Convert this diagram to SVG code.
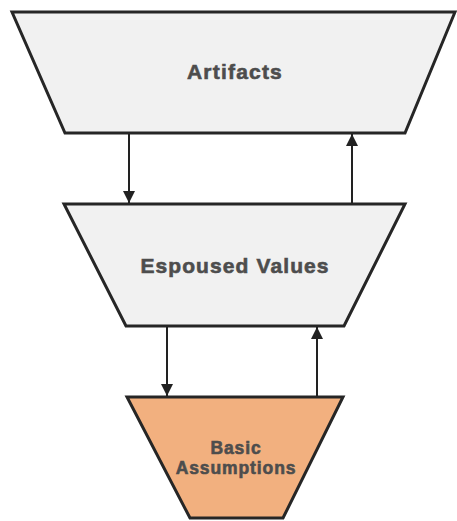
<svg xmlns="http://www.w3.org/2000/svg" width="457" height="521" viewBox="0 0 457 521">
<defs>
<marker id="ah" viewBox="0 0 12 12" refX="12" refY="6" markerWidth="12" markerHeight="12" markerUnits="userSpaceOnUse" orient="auto">
<path d="M0,0 L12,6 L0,12 Z" fill="#222"/>
</marker>
</defs>
<style>
.shape{stroke:#262626;stroke-width:3;stroke-linejoin:miter}
.grey{fill:#f1f1f1}
.orange{fill:#f2b07f}
.lbl{font-family:"Liberation Sans",Arial,sans-serif;font-weight:bold;fill:#4d4d4d;stroke:#4d4d4d;stroke-width:0.6;text-anchor:middle}
.conn{stroke:#222;stroke-width:2;fill:none;marker-end:url(#ah)}
</style>
<g id="artifacts">
<polygon class="shape grey" points="12,12 455,12 405,133 65,133"/>
<text class="lbl" x="235" y="79" font-size="21" letter-spacing="1.2">Artifacts</text>
</g>
<g id="espoused-values">
<polygon class="shape grey" points="64,204 405,204 344,326 126,326"/>
<text class="lbl" x="235" y="273" font-size="21" letter-spacing="1.1">Espoused Values</text>
</g>
<g id="basic-assumptions">
<polygon class="shape orange" points="127,397 343,397 283,518 190,518"/>
<text class="lbl" x="236" y="454" font-size="17.5" letter-spacing="0.9">Basic</text>
<text class="lbl" x="236" y="474" font-size="17.5" letter-spacing="0.9">Assumptions</text>
</g>
<g id="connectors">
<line class="conn" x1="129" y1="134" x2="129" y2="203"/>
<line class="conn" x1="352" y1="203" x2="352" y2="134"/>
<line class="conn" x1="167" y1="327" x2="167" y2="396"/>
<line class="conn" x1="317" y1="396" x2="317" y2="327"/>
</g>
</svg>
